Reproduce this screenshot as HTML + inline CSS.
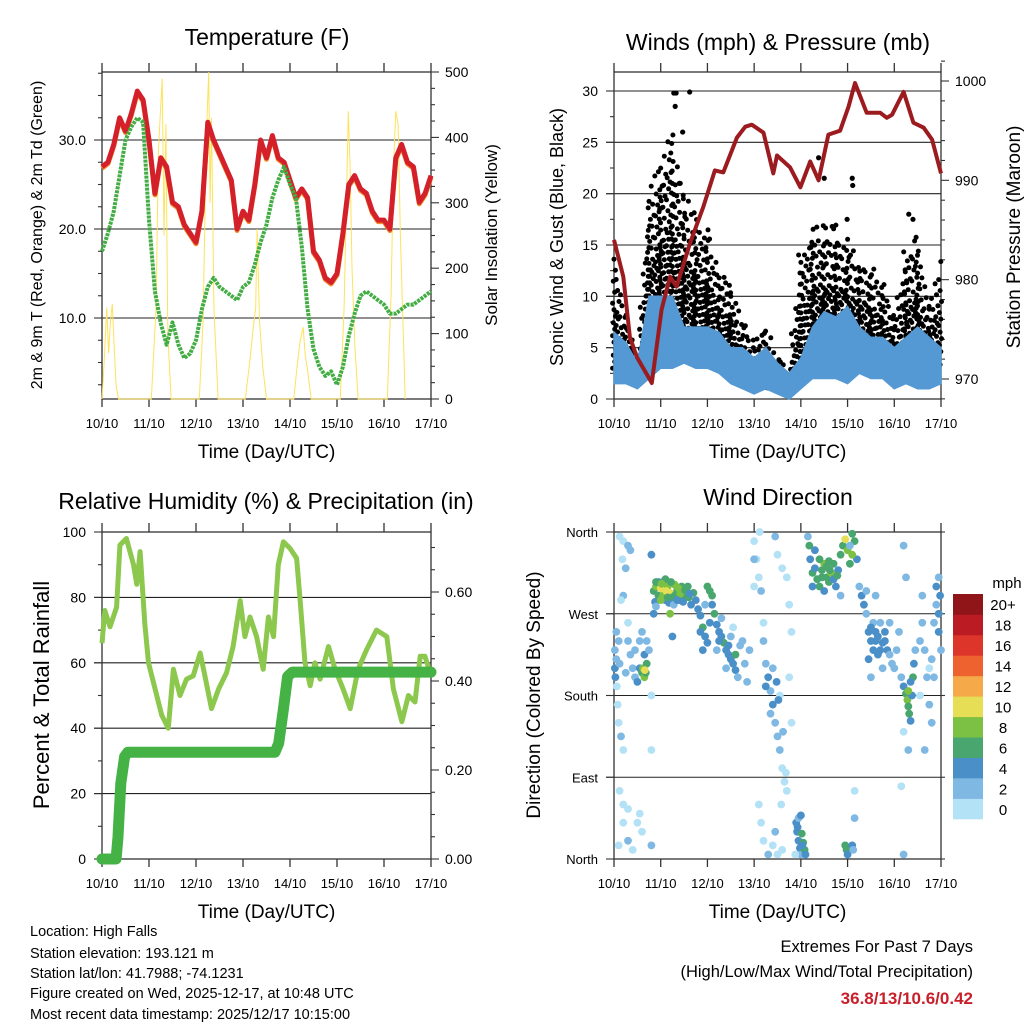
<!DOCTYPE html>
<html><head><meta charset="utf-8"><style>
html,body{margin:0;padding:0;background:#fff}
svg{display:block;font-family:"Liberation Sans",sans-serif}
</style></head><body>
<svg id="c" width="1024" height="1024" viewBox="0 0 1024 1024"></svg>
<script>
// ---------- data ----------
const dayLabels = ['10/10','11/10','12/10','13/10','14/10','15/10','16/10','17/10'];
const tDays = [0,0.125,0.25,0.375,0.5,0.625,0.75,0.875,1,1.125,1.25,1.375,1.5,1.625,1.75,1.875,2,2.125,2.25,2.375,2.5,2.625,2.75,2.875,3,3.125,3.25,3.375,3.5,3.625,3.75,3.875,4,4.125,4.25,4.375,4.5,4.625,4.75,4.875,5,5.125,5.25,5.375,5.5,5.625,5.75,5.875,6,6.125,6.25,6.375,6.5,6.625,6.75,6.875,7];
const tempRed = [27,27.5,29.5,32.5,31,33,35.5,34.5,30,24,28,27,23,22.5,20.5,19.5,18.5,22,32,30,28.5,27,25.5,20,22,21,25,30,28,30.5,28,27.5,25.5,23.5,24.5,23.5,17.5,16.5,14.5,14,15,19.5,25,26,24.5,24,22,21,21,20,28,29.5,27.5,27,23,24,26];
const dewGreen = [17.5,19.5,22,26,30,31.5,32.5,32,21,13,9.4,7,9.5,7,5.5,6,7.5,11,13.5,14.5,13.5,13,12.5,12,13.5,14,16,18.5,20.5,23.5,25.5,27,25,23.5,18,11,6.5,4.5,3.5,4,2.5,4.5,8,10.5,12.5,13,12.5,12,11.5,10.5,10.5,11,11.5,11.5,12,12.5,13];
const solarDays = [0,0.05,0.1,0.14,0.18,0.22,0.26,0.3,0.35,1.05,1.15,1.2,1.25,1.28,1.32,1.36,1.4,1.47,2.07,2.15,2.22,2.27,2.3,2.33,2.38,2.47,3.05,3.15,3.22,3.27,3.3,3.35,3.42,3.5,4.08,4.15,4.22,4.28,4.32,4.38,4.45,5.07,5.15,5.2,5.24,5.28,5.32,5.38,5.45,6.07,6.15,6.2,6.25,6.3,6.35,6.45];
const solarVals = [0,60,140,70,120,145,80,20,0,0,140,380,450,490,250,420,100,0,0,120,400,500,300,430,140,0,0,60,110,140,260,120,50,0,0,50,90,110,70,40,0,0,140,300,440,350,200,80,0,0,160,350,440,420,250,0];
const windDays = [0,0.25,0.5,0.75,1,1.25,1.5,1.75,2,2.25,2.5,2.75,3,3.25,3.5,3.75,4,4.25,4.5,4.75,5,5.25,5.5,5.75,6,6.25,6.5,6.75,7];
const windLow = [1.5,1.5,1,2,3,3,3.5,3,3,2.5,1.5,1,0.5,1,0.5,0,1,2,2,2,1.5,2.5,2,2,1,1.5,1,1,1.5];
const windHigh = [6.5,5.5,3.5,10,10,10,7,7,7,6.5,5,5,4,5,3.5,2.5,4,7,8.5,8,9,7,6,6,5,6,7,6,5];
const gustLow = [3,3,3,6,6,7,6,6,5,4,3,1.5,1,1,0.5,0.5,3,4,4,4,4,4,4,3,2,3,3,3,3];
const gustHigh = [15,8,5,20,24,26,20,18,17,13,12,8,6,7,4,3,15,17,17,17,16,14,13,12,9,15,16,10,14];
const gustOutDays = [1.28,1.33,1.31,1.62,1.47,0.98,1.4,4.38,4.99,5.1,5.11,4.5,6.31,6.4];
const gustOutVals = [29.8,29.8,28.5,29.9,26,18.5,21,23.5,17.5,21.5,20.8,21.5,18,17.5];
const presDays = [0,0.2,0.34,0.49,0.81,1.02,1.2,1.34,1.63,1.91,2.16,2.34,2.63,2.81,2.95,3.2,3.41,3.49,3.77,3.99,4.2,4.38,4.59,4.84,5.02,5.16,5.41,5.7,5.84,5.95,6.2,6.41,6.63,6.81,7];
const presVals = [984,980.3,974.2,972.2,969.6,977,980.3,979.3,983.7,987.3,991,990.8,994.3,995.4,995.6,994.8,990.7,992.5,991.3,989.3,991.9,990,994.6,995,997.4,999.8,996.8,996.8,996.3,996.6,998.9,995.8,995.3,994.1,990.7];
const rhDays = [0,0.06,0.17,0.31,0.38,0.52,0.67,0.74,0.81,0.91,0.99,1.13,1.27,1.41,1.52,1.66,1.8,1.94,2.09,2.19,2.33,2.48,2.65,2.79,2.94,3.04,3.15,3.29,3.43,3.54,3.65,3.75,3.86,4,4.14,4.21,4.32,4.43,4.53,4.64,4.82,4.96,5.13,5.28,5.45,5.63,5.84,6.06,6.2,6.38,6.52,6.66,6.77,6.87,6.98];
const rhVals = [66,76,71,77,96,98,90,84,94,72,60,52,44,40,58,50,55,56,63,56,46,52,57,65,79,68,74,68,58,74,68,90,97,95,92,80,60,53,60,55,65,58,52,46,58,64,70,68,52,42,50,48,62,62,57];
const precipDays = [0,0.3,0.34,0.4,0.48,0.55,3.68,3.76,3.85,3.95,4.05,7];
const precipVals = [0,0,0.05,0.17,0.23,0.24,0.24,0.26,0.33,0.41,0.42,0.42];
const windDirObs = [
[0.02,210,5],[0.03,200,4],[0.05,220,3],[0.02,230,2],[0.06,190,1],[0.1,240,3],[0.12,215,2],[0.08,170,1],[0.1,150,1],[0.15,135,3],[0.2,120,1],[0.12,355,0],[0.2,350,0],[0.18,330,1],[0.25,320,2],[0.3,345,2],[0.35,340,3],[0.2,290,2],[0.15,285,1],[0.3,260,1],[0.3,240,2],[0.35,225,3],[0.4,210,2],[0.45,200,3],[0.5,195,4],[0.55,210,5],[0.6,205,7],[0.65,200,9],[0.62,210,8],[0.68,205,6],[0.65,225,4],[0.7,240,3],[0.75,230,2],[0.55,240,3],[0.6,250,2],[0.45,230,2],[0.8,180,1],[0.8,120,0],[0.2,60,1],[0.3,55,0],[0.5,40,0],[0.3,20,2],[0.55,50,0],[0.4,10,1],[0.8,15,2],[0.6,30,1],[0.8,335,4],[0.2,40,0],[0.1,15,0],[0.12,75,1],[0.05,250,2],[0.25,205,3],[0.7,215,7],[0.66,208,10],
[0.85,295,6],[0.9,300,8],[0.95,290,7],[1.0,298,10],[1.05,305,6],[1.1,285,5],[1.15,300,9],[1.2,293,10],[1.25,288,7],[1.3,302,8],[1.35,295,6],[1.4,285,4],[1.45,300,7],[1.5,290,6],[1.55,297,5],[1.6,288,7],[1.65,280,4],[1.7,293,6],[0.88,283,4],[0.95,305,5],[1.05,290,9],[1.12,295,10],[1.18,282,4],[1.22,305,7],[1.28,280,3],[1.38,298,8],[1.48,283,5],[1.58,300,6],[0.85,270,5],[0.9,278,3],[1.2,270,8],[1.25,245,4],[0.9,305,6],[1.0,285,8],[1.1,308,7],[1.02,303,9],[1.3,290,7],[1.42,292,8],[1.15,288,6],[1.35,285,5],[1.52,296,6],[1.62,292,4],
[1.75,285,4],[1.8,275,5],[1.85,268,4],[1.9,255,6],[1.95,245,4],[2.0,238,5],[2.0,300,6],[2.05,295,7],[2.1,280,4],[2.15,270,6],[2.2,258,4],[2.25,250,5],[2.3,245,4],[2.35,238,6],[2.4,230,4],[2.45,225,5],[2.5,220,4],[2.55,215,5],[2.6,208,4],[2.65,200,3],[2.7,235,3],[2.5,245,3],[2.3,265,2],[2.6,225,6],[2.75,240,2],[2.8,215,2],[2.85,195,3],[2.9,230,2],[2.55,255,1],[2.4,210,2],[2.2,230,3],[1.9,230,4],[1.95,280,3],[2.05,260,5],[1.85,250,5],[2.1,290,6],[2.25,240,4],[2.45,235,4],
[3.0,350,1],[3.05,330,0],[3.1,310,1],[3.0,300,0],[3.15,295,2],[3.2,260,1],[3.2,240,2],[3.25,215,3],[3.3,200,4],[3.35,185,2],[3.4,170,4],[3.45,150,3],[3.5,135,2],[3.55,120,2],[3.6,100,1],[3.65,85,0],[3.7,75,1],[3.45,355,2],[3.5,335,1],[3.6,320,0],[3.7,310,1],[3.75,280,0],[3.8,250,1],[3.75,200,1],[3.8,150,0],[3.1,60,0],[3.15,40,1],[3.2,20,1],[3.3,5,2],[3.4,15,1],[3.5,5,0],[3.6,10,1],[3.0,330,2],[3.12,360,0],[3.25,190,4],[3.4,210,3],[3.35,160,2],[3.55,180,1],[3.48,195,4],[3.52,175,4],[3.62,140,2],[3.68,95,1],[3.58,60,1],[3.45,30,2],
[3.9,40,4],[3.92,30,4],[3.95,20,5],[3.98,12,4],[4.0,5,3],[4.02,28,6],[4.05,18,7],[4.08,10,6],[4.1,5,5],[3.95,45,3],[4.0,48,4],[4.95,15,6],[4.98,10,7],[5.0,5,5],[5.1,15,4],[5.12,10,3],[5.15,45,2],[5.15,75,1],[3.88,5,1],[3.93,35,4],[4.03,15,4],
[4.15,355,3],[4.18,345,6],[4.2,330,4],[4.25,315,6],[4.3,320,5],[4.35,308,6],[4.4,300,7],[4.45,318,6],[4.5,325,8],[4.55,310,7],[4.6,305,6],[4.65,315,8],[4.7,325,6],[4.75,300,4],[4.8,318,5],[4.85,335,6],[4.9,345,7],[4.95,352,10],[5.0,340,8],[5.05,325,6],[5.1,358,7],[5.15,350,6],[5.2,330,4],[5.25,300,3],[4.3,340,5],[4.4,330,6],[4.6,328,6],[4.7,308,5],[4.25,300,4],[4.5,295,5],[4.85,290,3],[5.05,345,3],[5.1,335,8],[4.45,310,6],[4.62,318,7],[4.78,312,6],[4.55,322,6],
[5.3,290,4],[5.35,280,5],[5.4,270,3],[5.45,250,4],[5.5,240,4],[5.55,230,4],[5.6,250,5],[5.65,245,4],[5.7,260,3],[5.75,238,4],[5.8,250,4],[5.85,230,4],[5.9,225,3],[5.95,215,2],[6.0,210,3],[6.05,230,2],[5.55,260,3],[5.65,225,4],[5.45,220,4],[5.7,230,5],[5.9,260,2],[5.4,295,2],[5.5,200,2],[5.6,290,3],[5.75,210,3],[5.5,255,4],[5.6,240,4],[5.8,240,4],
[6.15,200,3],[6.2,190,4],[6.25,182,7],[6.28,175,8],[6.3,168,6],[6.32,160,6],[6.35,152,4],[6.38,180,5],[6.4,200,6],[6.42,215,4],[6.45,230,3],[6.3,120,2],[6.2,140,1],[6.25,310,2],[6.2,345,2],[6.1,250,3],[6.15,80,1],[6.2,5,2],[6.3,185,8],[6.35,195,5],
[6.55,240,2],[6.6,260,3],[6.65,230,2],[6.7,200,2],[6.75,170,2],[6.8,150,3],[6.85,260,2],[6.9,280,3],[6.95,250,4],[7.0,230,2],[6.9,300,4],[6.95,310,3],[6.75,210,1],[6.6,290,2],[6.55,180,1],[6.8,220,2],[6.95,270,4],[6.65,120,2],[6.98,290,4],[6.85,200,2]
];
const speedColors = ['#b3e1f6','#7fb9e3','#4a8fc7','#48a66e','#7cc143','#e6df56','#f6a949','#ee6230','#de352a','#bb1c23','#8f1519'];
const speedLabels = ['0','2','4','6','8','10','12','14','16','18','20+'];

// ---------- helpers ----------
const NS='http://www.w3.org/2000/svg';
const svg=document.getElementById('c');
function el(tag,attrs,parent){const e=document.createElementNS(NS,tag);for(const k in attrs)e.setAttribute(k,attrs[k]);(parent||svg).appendChild(e);return e;}
function txt(s,attrs,parent){const e=el('text',attrs,parent);e.textContent=s;return e;}
function mkScale(d0,d1,r0,r1){return v=>r0+(v-d0)*(r1-r0)/(d1-d0);}
function path(xs,ys){return xs.map((x,i)=>(i?'L':'M')+x.toFixed(1)+' '+ys[i].toFixed(1)).join('');}

function panel(name,p){
  const g=el('g',{});
  
  
  return g;
}
function frame(g,p,leftTicks,rightTicks,opts){
  const sx=mkScale(0,7,p.x0,p.x1);
  leftTicks.forEach(t=>{
    if(t.grid){const l=el('line',{x1:p.x0-8,x2:p.x1,y1:t.y,y2:t.y,stroke:'#222','stroke-width':1.1},g);
      }
  });
  el('rect',{x:p.x0,y:p.y0,width:p.x1-p.x0,height:p.y1-p.y0,fill:'none',stroke:'#333','stroke-width':1.3},g);
  for(let d=0;d<=7;d++){
    const x=sx(d);
    el('line',{x1:x,x2:x,y1:p.y1,y2:p.y1+8,stroke:'#333','stroke-width':1.3},g);
    el('line',{x1:x,x2:x,y1:p.y0,y2:p.y0-9,stroke:'#333','stroke-width':1.3},g);
    const t=txt(dayLabels[d],{x:x,y:p.y1+29,'font-size':13,'text-anchor':'middle',fill:'#000'},g);
    
  }
  const xt=txt('Time (Day/UTC)',{x:(p.x0+p.x1)/2,y:p.y1+59,'font-size':19,'text-anchor':'middle'},g);
  
  leftTicks.forEach(t=>{
    el('line',{x1:p.x0-(t.minor?4:8),x2:p.x0,y1:t.y,y2:t.y,stroke:'#333','stroke-width':1.1},g);
    if(t.label!==undefined){const e=txt(t.label,{x:p.x0-16,y:t.y+5,'font-size':opts.lfs||14,'text-anchor':'end'},g);
      }
  });
  rightTicks.forEach(t=>{
    el('line',{x1:p.x1,x2:p.x1+(t.minor?4:8),y1:t.y,y2:t.y,stroke:'#333','stroke-width':1.1},g);
    if(t.label!==undefined){const e=txt(t.label,{x:p.x1+14,y:t.y+5,'font-size':14,'text-anchor':'start'},g);
      }
  });
  return sx;
}
function vtitle(g,s,x,y,fs,name){
  const t=txt(s,{x:x,y:y,'font-size':fs,'text-anchor':'middle',transform:`rotate(-90 ${x} ${y})`},g);
  
}
function title(g,s,x,y,name){
  const t=txt(s,{x:x,y:y,'font-size':23,'text-anchor':'middle'},g);
  
}

// ---------- Panel 1: Temperature ----------
(function(){
  const p={x0:102,x1:431,y0:72,y1:399};
  const g=panel('temperature-panel',p);
  const sy=mkScale(10,30,318,140);
  const sr=mkScale(0,500,399,72);
  const lt=[];
  [2.5,5,7.5,10,12.5,15,17.5,20,22.5,25,27.5,30,32.5,35,37.5].forEach(v=>{
    const major=(v%10===0);lt.push({y:sy(v),minor:!major,grid:major,label:major?v.toFixed(1):undefined});});
  const rt=[];
  for(let v=0;v<=500;v+=25){rt.push({y:sr(v),minor:v%100!==0,label:v%100===0?String(v):undefined});}
  const sx=frame(g,p,lt,rt,{});
  const s=el('path',{d:path(solarDays.map(sx),solarVals.map(sr)),fill:'none',stroke:'#fde35a','stroke-width':1},g);
  
  const o=el('path',{d:path(tDays.map(sx),tempRed.map(v=>sy(v)+1.5)),fill:'none',stroke:'#f08a2a','stroke-width':5,'stroke-linejoin':'round'},g);
  
  const r=el('path',{d:path(tDays.map(sx),tempRed.map(sy)),fill:'none',stroke:'#d4202a','stroke-width':5,'stroke-linejoin':'round'},g);
  
  const gr=el('path',{d:path(tDays.map(sx),dewGreen.map(sy)),fill:'none',stroke:'#42ad43','stroke-width':4,'stroke-dasharray':'3 1','stroke-linejoin':'round'},g);
  
  title(g,'Temperature (F)',267,45,'temperature-title');
  vtitle(g,'2m & 9m T (Red, Orange) & 2m Td (Green)',42,235,16,'temperature-y-axis-title');
  vtitle(g,'Solar Insolation (Yellow)',497,235,17,'solar-y-axis-title');
})();

// ---------- Panel 2: Winds & Pressure ----------
(function(){
  const p={x0:614,x1:941,y0:72,y1:399};
  const g=panel('winds-pressure-panel',p);
  const sy=mkScale(0,30,399,91);
  const sr=mkScale(970,1000,379,81);
  const lt=[];
  for(let v=0;v<=30;v+=2.5){const major=v%5===0;lt.push({y:sy(v),minor:!major,grid:major&&v>0,label:major?String(v):undefined});}
  const rt=[];
  for(let v=968;v<=1002;v+=2){rt.push({y:sr(v),minor:v%10!==0,label:v%10===0?String(v):undefined});}
  const sx=frame(g,p,lt,rt,{});
  const gg=el('g',{},g);
  
  let col=0;
  for(let i=0;i<windDays.length-1;i++){
    const xa=sx(windDays[i]),xb=sx(windDays[i+1]);
    for(let x=xa;x<xb;x+=3.6,col++){
      const f=(x-xa)/(xb-xa);
      const lo=gustLow[i]+(gustLow[i+1]-gustLow[i])*f;
      const hi=gustHigh[i]+(gustHigh[i+1]-gustHigh[i])*f;
      const yl=sy(lo),yh=sy(hi);
      const span=Math.max(yl-yh,1);
      const phase=(col*0.618)%1;
      let y=yl-phase*6;
      let k=0;
      while(y>yh){
        const dx=(((col*7+k*3)%5)-2)*0.7;
        el('circle',{cx:(x+dx).toFixed(1),cy:y.toFixed(1),r:2.5,fill:'#000'},gg);
        const frac=(yl-y)/span;
        y-= frac<0.5?6.5:(frac<0.8?11:18);
        k++;
      }
    }
  }
  gustOutDays.forEach((d,i)=>{el('circle',{cx:sx(d),cy:sy(gustOutVals[i]),r:2.6,fill:'#000'},gg);});
  const xs=windDays.map(sx);
  const band='M'+xs.map((x,i)=>x.toFixed(1)+' '+sy(windHigh[i]).toFixed(1)).join('L')+'L'+xs.slice().reverse().map((x,j)=>{const i=xs.length-1-j;return x.toFixed(1)+' '+sy(windLow[i]).toFixed(1);}).join('L')+'Z';
  const w=el('path',{d:band,fill:'#5499d3',stroke:'#5499d3','stroke-width':1.5},g);
  
  const pr=el('path',{d:path(presDays.map(sx),presVals.map(sr)),fill:'none',stroke:'#9c1b1f','stroke-width':4,'stroke-linejoin':'round'},g);
  
  title(g,'Winds (mph) & Pressure (mb)',778,50,'winds-title');
  vtitle(g,'Sonic Wind & Gust (Blue, Black)',563,237,18,'wind-y-axis-title');
  vtitle(g,'Station Pressure (Maroon)',1020,237,19,'pressure-y-axis-title');
})();

// ---------- Panel 3: RH & Precip ----------
(function(){
  const p={x0:102,x1:431,y0:532,y1:859};
  const g=panel('humidity-precip-panel',p);
  const sy=mkScale(0,100,859,532);
  const sr=mkScale(0,0.6,859,592);
  const lt=[];
  for(let v=0;v<=100;v+=10){const major=v%20===0;lt.push({y:sy(v),minor:!major,grid:major&&v>0&&v<100,label:major?String(v):undefined});}
  const rt=[];
  for(let v=0;v<=0.72;v+=0.05){const k=Math.round(v*100);rt.push({y:sr(v),minor:k%20!==0,label:k%20===0?v.toFixed(2):undefined});}
  const sx=frame(g,p,lt,rt,{});
  const rh=el('path',{d:path(rhDays.map(sx),rhVals.map(sy)),fill:'none',stroke:'#8cc84d','stroke-width':5,'stroke-linejoin':'round'},g);
  
  const pc=el('path',{d:path(precipDays.map(sx),precipVals.map(sr)),fill:'none',stroke:'#45b246','stroke-width':11,'stroke-linejoin':'round','stroke-linecap':'round'},g);
  
  title(g,'Relative Humidity (%) & Precipitation (in)',266,509,'humidity-title');
  vtitle(g,'Percent & Total Rainfall',49,695,22,'humidity-y-axis-title');
})();

// ---------- Panel 4: Wind Direction ----------
(function(){
  const p={x0:614,x1:941,y0:532,y1:859};
  const g=panel('wind-direction-panel',p);
  const sy=mkScale(0,360,859,532);
  const names=['North','East','South','West','North'];
  const lt=[0,90,180,270,360].map((v,i)=>({y:sy(v),grid:v>0&&v<360,label:names[i]}));
  const rt=[0,90,180,270,360].map(v=>({y:sy(v),minor:true}));
  const sx=frame(g,p,lt,rt,{lfs:13});
  const dg=el('g',{},g);
  
  windDirObs.forEach(o=>{
    const bin=Math.min(10,Math.floor(o[2]/2));
    el('circle',{cx:sx(o[0]).toFixed(1),cy:sy(o[1]).toFixed(1),r:3.9,fill:speedColors[bin]},dg);
  });
  const cb=el('g',{},g);
  
  const bh=225/11;
  speedColors.forEach((c,i)=>{
    const y=819-(i+1)*bh;
    el('rect',{x:953,y:y.toFixed(1),width:30,height:(bh+0.3).toFixed(1),fill:c},cb);
    txt(speedLabels[i],{x:1003,y:(y+bh/2+6).toFixed(1),'font-size':15,'text-anchor':'middle'},cb);
  });
  txt('mph',{x:1007,y:588,'font-size':15,'text-anchor':'middle'},cb);
  title(g,'Wind Direction',778,505,'wind-direction-title');
  vtitle(g,'Direction (Colored By Speed)',540,695,19,'direction-y-axis-title');
})();

// ---------- footer text ----------
const info=['Location: High Falls','Station elevation: 193.121 m','Station lat/lon: 41.7988; -74.1231','Figure created on Wed, 2025-12-17, at 10:48 UTC','Most recent data timestamp: 2025/12/17 10:15:00'];
const infoY=[936,958,978,998,1019];
info.forEach((s,i)=>{const t=txt(s,{x:30,y:infoY[i],'font-size':14.5},svg);
  });
const e1=txt('Extremes For Past 7 Days',{x:973,y:952,'font-size':16.5,'text-anchor':'end'});

const e2=txt('(High/Low/Max Wind/Total Precipitation)',{x:973,y:977,'font-size':16.5,'text-anchor':'end'});

const e3=txt('36.8/13/10.6/0.42',{x:973,y:1004,'font-size':17,'font-weight':'bold','text-anchor':'end',fill:'#c8202a'});

</script>
</body></html>
